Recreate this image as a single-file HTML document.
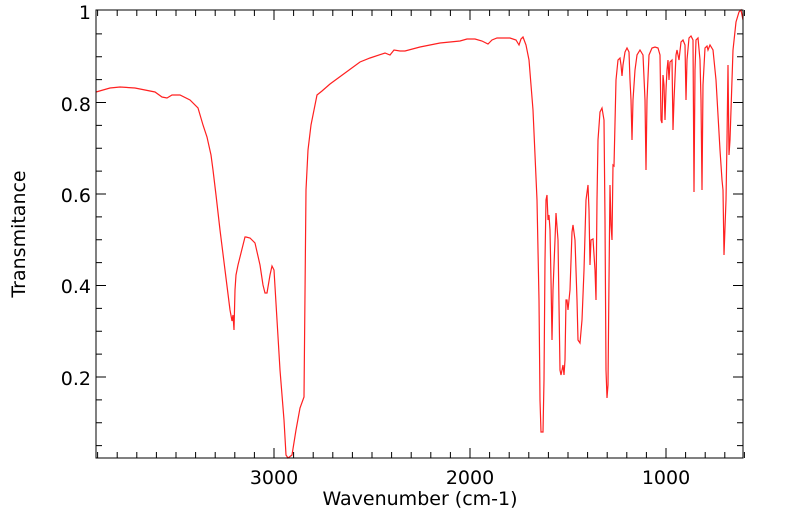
<!DOCTYPE html>
<html><head><style>body{margin:0;background:#fff}svg text{font-family:"DejaVu Sans","Liberation Sans",sans-serif}</style></head>
<body>
<svg width="799" height="516" xmlns="http://www.w3.org/2000/svg">
<rect width="799" height="516" fill="#fff"/>
<g id="ticks" stroke="#000" stroke-width="1"></g>
<polyline fill="none" stroke="#ff2020" stroke-width="1.2" points="96,92 110,88 120,87 135,88 155,92 162,97 167,98 172,95 180,95 190,100 198,108 203,125 207,137 211,155 213,170 216,195 220,230 225,270 230,310 232,321 233,315 234,330 235,290 236,275 238,265 245,237 246,237 250,238 255,243 260,265 263,285 265,293 267,293 270,275 272,266 274,270 277,320 280,370 284,420 286,455 288,458 292,455 296,430 300,408 304,397 306,190 308,150 311,125 314,110 317,95 322,91 330,84 345,73 360,62 370,58 385,53 390,55 394,50 400,51 405,51 420,47 440,43 460,41 467,39 475,39 482,41 488,44 492,40 497,38 510,38 516,40 519,45 521,39 523,37 526,45 529,60 533,110 537,200 539,300 540,400 541,432 543,432 544,380 545,260 546,200 547,195 548,220 549,215 550,230 551,280 552,340 553,290 555,240 556,213 558,240 560,370 561,375 562,370 563,365 564,375 565,360 566,300 567,300 568,310 570,290 572,232 573,225 575,240 577,300 578,340 580,343 582,320 584,270 586,200 588,185 589,210 590,265 591,240 593,239 595,270 596,300 597,200 598,140 600,112 602,108 604,120 605,220 606,370 607,398 608,385 609,280 610,185 611,225 612,240 613,165 614,166 616,80 618,60 620,58 621,65 622,76 623,65 625,52 627,48 629,52 630,80 631,100 632,140 633,100 635,70 637,55 640,50 643,55 645,100 646,170 647,100 649,55 652,48 655,47 658,48 660,55 661,120 662,123 663,75 664,85 665,120 666,90 667,70 668,60 669,80 670,62 672,60 673,130 674,100 676,55 677,50 679,60 681,42 683,40 685,45 686,100 687,60 689,38 691,36 693,40 694,192 695,70 696,40 698,38 700,60 701,100 702,190 703,85 705,48 707,46 708,50 710,45 713,50 716,80 720,150 722,180 723,190 724,255 726,200 727,140 728,65 729,155 730,140 733,50 736,22 739,12 741,10 743,20"/>
<rect x="96" y="10" width="647" height="448" fill="none" stroke="#000" stroke-width="1"/>
<g font-size="19" fill="#000">
<text x="274" y="484" text-anchor="middle">3000</text>
<text x="470" y="484" text-anchor="middle">2000</text>
<text x="666" y="484" text-anchor="middle">1000</text>
<text x="91" y="19" text-anchor="end">1</text>
<text x="91" y="111" text-anchor="end">0.8</text>
<text x="91" y="202" text-anchor="end">0.6</text>
<text x="91" y="293" text-anchor="end">0.4</text>
<text x="91" y="385" text-anchor="end">0.2</text>
<text x="420" y="505" text-anchor="middle">Wavenumber (cm-1)</text>
<text transform="translate(25,234) rotate(-90)" text-anchor="middle">Transmitance</text>
</g>
<script>
var g=document.getElementById('ticks'),s='';
for(var w=3900;w>=600;w-=100){var x=274+(3000-w)*0.196;var L=(w%1000==0)?10:6;s+='M'+x+' 458v-'+L+'M'+x+' 10v'+L;}
for(var v=0.05;v<1.0;v+=0.05){var y=468.5-v*457.5;var m=Math.abs(v*5-Math.round(v*5))<0.01;var L=m?10:6;s+='M96 '+y+'h'+L+'M743 '+y+'h-'+L;}
var p=document.createElementNS('http://www.w3.org/2000/svg','path');p.setAttribute('d',s);g.appendChild(p);
</script>
</svg>
</body></html>
